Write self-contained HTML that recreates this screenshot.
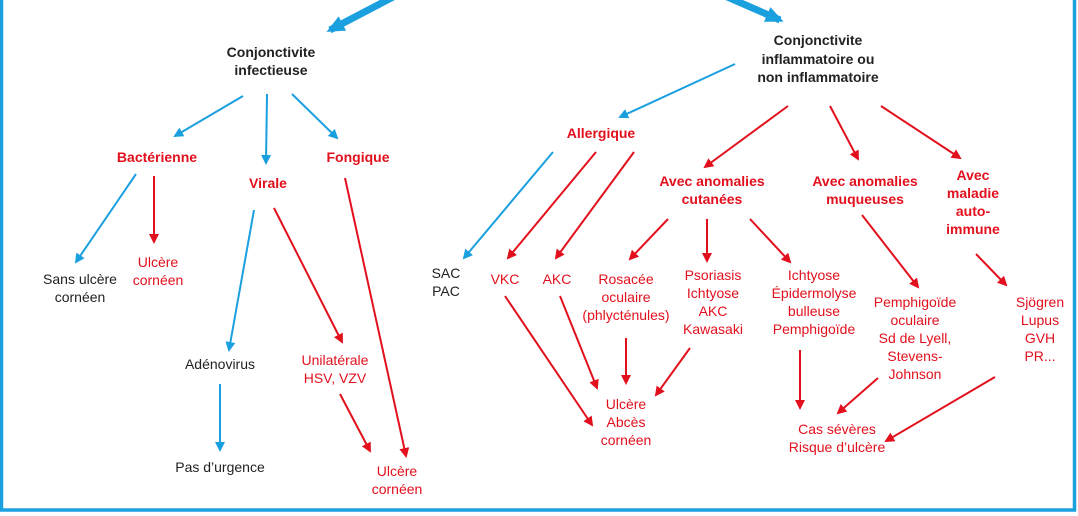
<!DOCTYPE html>
<html><head><meta charset="utf-8"><style>
html,body{margin:0;padding:0;background:#fff}
svg{display:block}
text{font-family:"Liberation Sans",sans-serif;font-size:14px;text-anchor:middle}
.b{font-weight:bold}
.r{fill:#e2101d}.k{fill:#222}
</style></head><body>
<svg width="1078" height="516" viewBox="0 0 1078 516" xmlns="http://www.w3.org/2000/svg">
<defs>
<marker id="mb" markerWidth="10" markerHeight="10" refX="8" refY="5" orient="auto" markerUnits="userSpaceOnUse"><path d="M0,0 L10,5 L0,10 z" fill="#1a9fdf"/></marker>
<marker id="mr" markerWidth="10" markerHeight="10" refX="8" refY="5" orient="auto" markerUnits="userSpaceOnUse"><path d="M0,0 L10,5 L0,10 z" fill="#e2101d"/></marker>
<marker id="mB" markerWidth="20" markerHeight="20" refX="14" refY="10" orient="auto" markerUnits="userSpaceOnUse"><path d="M0,2 L18,10 L0,18 z" fill="#1a9fdf"/></marker>
</defs>
<rect x="1.5" y="-5" width="1073" height="515" fill="none" stroke="#1a9fdf" stroke-width="3.5"/>
<line x1="395" y1="-4" x2="330" y2="30" stroke="#1a9fdf" stroke-width="7" marker-end="url(#mB)"/>
<line x1="725" y1="-4" x2="780" y2="20" stroke="#1a9fdf" stroke-width="7" marker-end="url(#mB)"/>
<g stroke="#1a9fdf" stroke-width="2" fill="none" marker-end="url(#mb)">
<line x1="243" y1="96" x2="175" y2="136"/>
<line x1="267" y1="94" x2="266" y2="163"/>
<line x1="292" y1="94" x2="337" y2="138"/>
<line x1="136" y1="174" x2="76" y2="262"/>
<line x1="254" y1="210" x2="229" y2="350"/>
<line x1="220" y1="384" x2="220" y2="450"/>
<line x1="735" y1="64" x2="620" y2="117"/>
<line x1="553" y1="152" x2="464" y2="258"/>
</g>
<g stroke="#e2101d" stroke-width="2" fill="none" marker-end="url(#mr)">
<line x1="154" y1="176" x2="154" y2="242"/>
<line x1="274" y1="208" x2="342" y2="342"/>
<line x1="345" y1="178" x2="406" y2="456"/>
<line x1="340" y1="394" x2="370" y2="451"/>
<line x1="596" y1="152" x2="508" y2="258"/>
<line x1="634" y1="152" x2="556" y2="258"/>
<line x1="788" y1="106" x2="705" y2="167"/>
<line x1="830" y1="106" x2="858" y2="159"/>
<line x1="881" y1="106" x2="960" y2="158"/>
<line x1="668" y1="219" x2="630" y2="259"/>
<line x1="707" y1="219" x2="707" y2="261"/>
<line x1="750" y1="219" x2="790" y2="262"/>
<line x1="862" y1="215" x2="918" y2="287"/>
<line x1="976" y1="254" x2="1006" y2="285"/>
<line x1="505" y1="296" x2="592" y2="425"/>
<line x1="560" y1="296" x2="597" y2="388"/>
<line x1="626" y1="338" x2="626" y2="383"/>
<line x1="690" y1="348" x2="656" y2="395"/>
<line x1="800" y1="350" x2="800" y2="408"/>
<line x1="878" y1="378" x2="838" y2="413"/>
<line x1="995" y1="377" x2="886" y2="441"/>
</g>
<g class="b k">
<text x="271" y="57">Conjonctivite</text><text x="271" y="75">infectieuse</text>
<text x="818" y="45">Conjonctivite</text><text x="818" y="64">inflammatoire ou</text><text x="818" y="82">non inflammatoire</text>
</g>
<g class="b r">
<text x="157" y="162">Bactérienne</text><text x="268" y="188">Virale</text><text x="358" y="162">Fongique</text>
<text x="601" y="138">Allergique</text>
<text x="712" y="186">Avec anomalies</text><text x="712" y="204">cutanées</text>
<text x="865" y="186">Avec anomalies</text><text x="865" y="204">muqueuses</text>
<text x="973" y="180">Avec</text><text x="973" y="198">maladie</text><text x="973" y="216">auto-</text><text x="973" y="234">immune</text>
</g>
<g class="k">
<text x="80" y="284">Sans ulcère</text><text x="80" y="302">cornéen</text>
<text x="220" y="369">Adénovirus</text><text x="220" y="472">Pas d’urgence</text>
<text x="446" y="278">SAC</text><text x="446" y="296">PAC</text>
</g>
<g class="r">
<text x="158" y="267">Ulcère</text><text x="158" y="285">cornéen</text>
<text x="335" y="365">Unilatérale</text><text x="335" y="383">HSV, VZV</text>
<text x="397" y="476">Ulcère</text><text x="397" y="494">cornéen</text>
<text x="505" y="284">VKC</text><text x="557" y="284">AKC</text>
<text x="626" y="284">Rosacée</text><text x="626" y="302">oculaire</text><text x="626" y="320">(phlycténules)</text>
<text x="713" y="280">Psoriasis</text><text x="713" y="298">Ichtyose</text><text x="713" y="316">AKC</text><text x="713" y="334">Kawasaki</text>
<text x="814" y="280">Ichtyose</text><text x="814" y="298">Épidermolyse</text><text x="814" y="316">bulleuse</text><text x="814" y="334">Pemphigoïde</text>
<text x="915" y="307">Pemphigoïde</text><text x="915" y="325">oculaire</text><text x="915" y="343">Sd de Lyell,</text><text x="915" y="361">Stevens-</text><text x="915" y="379">Johnson</text>
<text x="1040" y="307">Sjögren</text><text x="1040" y="325">Lupus</text><text x="1040" y="343">GVH</text><text x="1040" y="361">PR...</text>
<text x="626" y="409">Ulcère</text><text x="626" y="427">Abcès</text><text x="626" y="445">cornéen</text>
<text x="837" y="434">Cas sévères</text><text x="837" y="452">Risque d’ulcère</text>
</g>
</svg>
</body></html>
